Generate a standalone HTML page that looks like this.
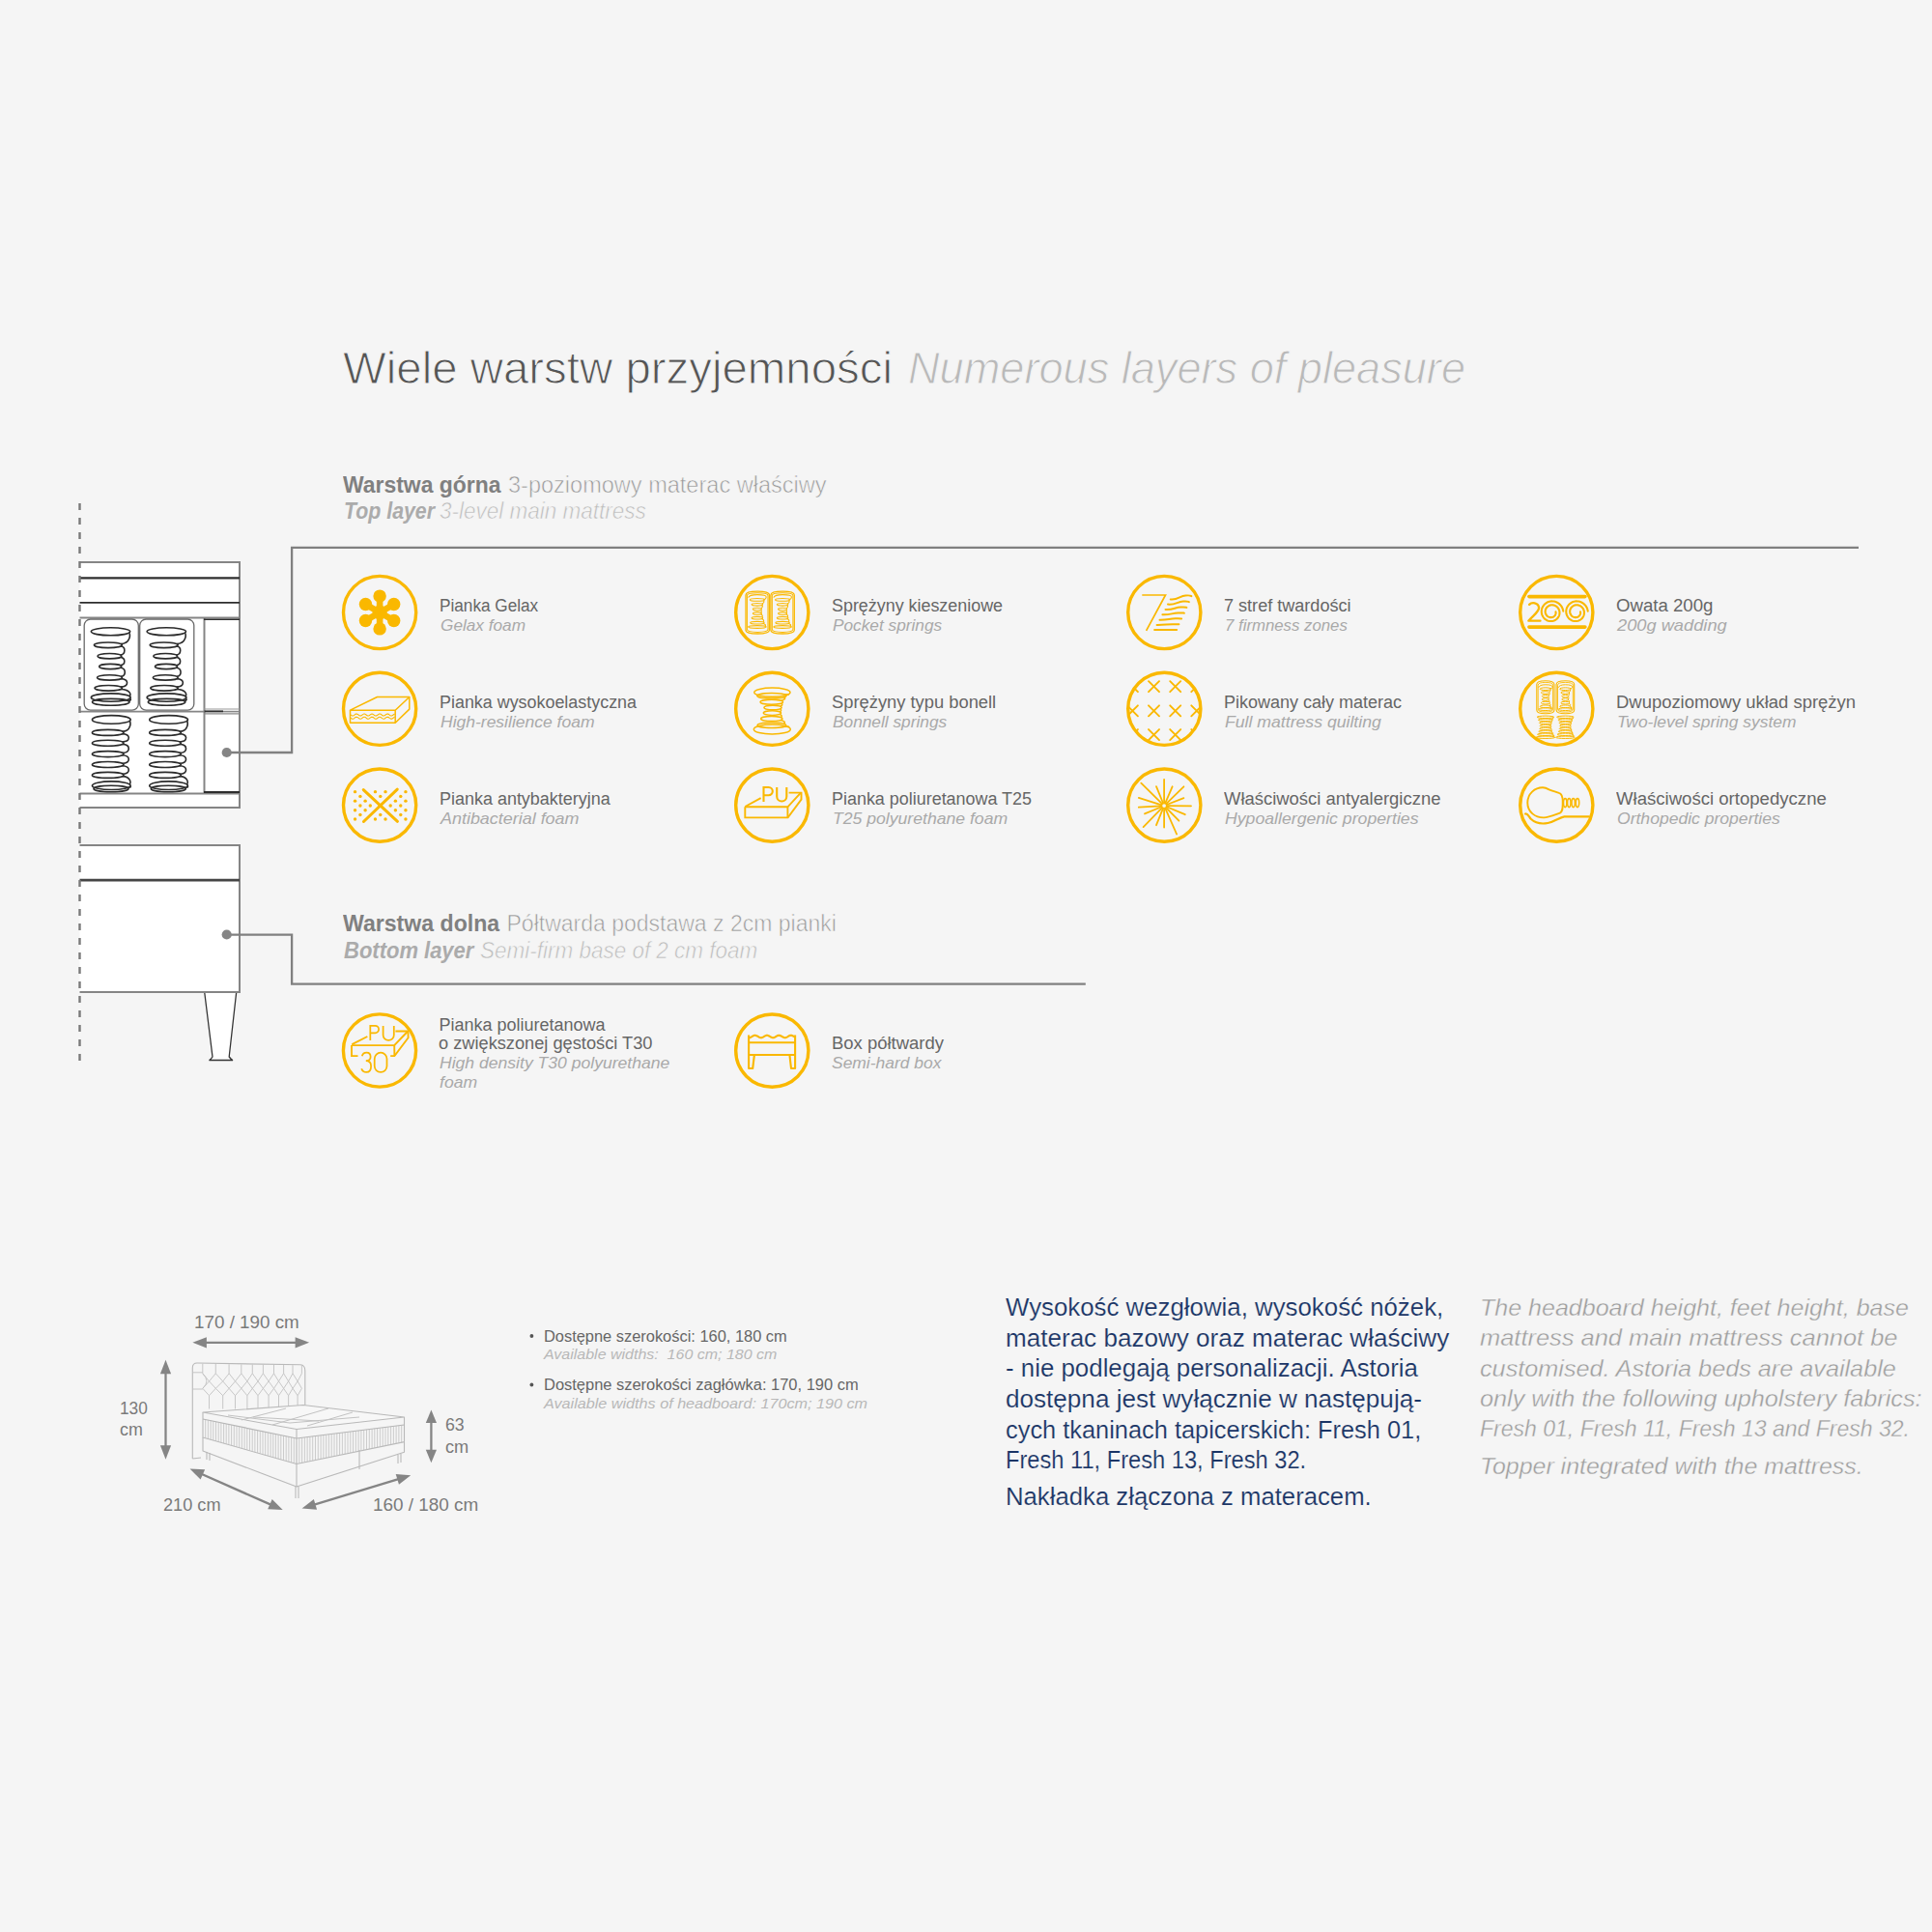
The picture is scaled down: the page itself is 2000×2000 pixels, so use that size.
<!DOCTYPE html>
<html><head><meta charset="utf-8"><title>Numerous layers of pleasure</title>
<style>
html,body{margin:0;padding:0;background:#f5f5f5;}
body{width:2000px;height:2000px;position:relative;overflow:hidden;font-family:"Liberation Sans",sans-serif;}
.t{position:absolute;white-space:pre;line-height:1;transform-origin:0 0;}
svg{position:absolute;left:0;top:0;}
</style></head><body>
<svg width="2000" height="2000" viewBox="0 0 2000 2000"><g transform="translate(393.1,634.0)">
<circle cx="0" cy="0" r="37.6" fill="none" stroke="#FAB800" stroke-width="3.4"/>
<g fill="#FAB800"><circle cx="0" cy="0" r="7.6"/><circle cx="0.00" cy="-16.90" r="6.7"/><line x1="0" y1="0" x2="0.00" y2="-16.90" stroke="#FAB800" stroke-width="6.6"/><circle cx="14.64" cy="-8.45" r="6.7"/><line x1="0" y1="0" x2="14.64" y2="-8.45" stroke="#FAB800" stroke-width="6.6"/><circle cx="14.64" cy="8.45" r="6.7"/><line x1="0" y1="0" x2="14.64" y2="8.45" stroke="#FAB800" stroke-width="6.6"/><circle cx="0.00" cy="16.90" r="6.7"/><line x1="0" y1="0" x2="0.00" y2="16.90" stroke="#FAB800" stroke-width="6.6"/><circle cx="-14.64" cy="8.45" r="6.7"/><line x1="0" y1="0" x2="-14.64" y2="8.45" stroke="#FAB800" stroke-width="6.6"/><circle cx="-14.64" cy="-8.45" r="6.7"/><line x1="0" y1="0" x2="-14.64" y2="-8.45" stroke="#FAB800" stroke-width="6.6"/></g>
</g>
<g transform="translate(393.1,733.8)">
<circle cx="0" cy="0" r="37.6" fill="none" stroke="#FAB800" stroke-width="3.4"/>
<g fill="none" stroke="#FAB800" stroke-width="1.5" stroke-linejoin="round"><path d="M-30.6 1.4 L-2.6 -12.3 L30.7 -12.3 L16.1 1.4 Z"/><path d="M-30.6 1.4 V14.5 H16.1 V1.4"/><path d="M30.7 -12.3 V0.3 L16.1 14.5"/></g>
<polyline points="-30.00,6.20 -29.24,6.76 -28.48,7.13 -27.73,7.18 -26.97,6.89 -26.21,6.36 -25.45,5.78 -24.69,5.34 -23.93,5.20 -23.18,5.40 -22.42,5.88 -21.66,6.47 -20.90,6.96 -20.14,7.19 -19.38,7.08 -18.62,6.67 -17.87,6.10 -17.11,5.56 -16.35,5.24 -15.59,5.25 -14.83,5.59 -14.07,6.14 -13.32,6.71 -12.56,7.11 -11.80,7.19 -11.04,6.93 -10.28,6.42 -9.52,5.84 -8.77,5.38 -8.01,5.20 -7.25,5.37 -6.49,5.82 -5.73,6.41 -4.98,6.92 -4.22,7.19 -3.46,7.11 -2.70,6.72 -1.94,6.15 -1.18,5.60 -0.43,5.26 0.33,5.23 1.09,5.55 1.85,6.08 2.61,6.66 3.37,7.08 4.12,7.20 4.88,6.97 5.64,6.48 6.40,5.89 7.16,5.41 7.92,5.20 8.67,5.34 9.43,5.77 10.19,6.35 10.95,6.88 11.71,7.17 12.47,7.13 13.23,6.77 13.98,6.21 14.74,5.65 15.50,5.28" fill="none" stroke="#FAB800" stroke-width="1.1"/>
<polyline points="-30.00,9.40 -29.24,9.96 -28.48,10.33 -27.73,10.38 -26.97,10.09 -26.21,9.56 -25.45,8.98 -24.69,8.54 -23.93,8.40 -23.18,8.60 -22.42,9.08 -21.66,9.67 -20.90,10.16 -20.14,10.39 -19.38,10.28 -18.62,9.87 -17.87,9.30 -17.11,8.76 -16.35,8.44 -15.59,8.45 -14.83,8.79 -14.07,9.34 -13.32,9.91 -12.56,10.31 -11.80,10.39 -11.04,10.13 -10.28,9.62 -9.52,9.04 -8.77,8.58 -8.01,8.40 -7.25,8.57 -6.49,9.02 -5.73,9.61 -4.98,10.12 -4.22,10.39 -3.46,10.31 -2.70,9.92 -1.94,9.35 -1.18,8.80 -0.43,8.46 0.33,8.43 1.09,8.75 1.85,9.28 2.61,9.86 3.37,10.28 4.12,10.40 4.88,10.17 5.64,9.68 6.40,9.09 7.16,8.61 7.92,8.40 8.67,8.54 9.43,8.97 10.19,9.55 10.95,10.08 11.71,10.37 12.47,10.33 13.23,9.97 13.98,9.41 14.74,8.85 15.50,8.48" fill="none" stroke="#FAB800" stroke-width="1.1"/>
</g>
<g transform="translate(393.1,833.6)">
<circle cx="0" cy="0" r="37.6" fill="none" stroke="#FAB800" stroke-width="3.4"/>
<g fill="#FAB800"><circle cx="-25.55" cy="-13.95" r="1.7"/><circle cx="-4.64" cy="-13.95" r="1.7"/><circle cx="5.92" cy="-13.95" r="1.7"/><circle cx="26.83" cy="-13.95" r="1.7"/><circle cx="-20.17" cy="-9.19" r="1.7"/><circle cx="0.66" cy="-9.19" r="1.7"/><circle cx="21.66" cy="-9.19" r="1.7"/><circle cx="-25.55" cy="-4.43" r="1.7"/><circle cx="-14.99" cy="-4.43" r="1.7"/><circle cx="16.27" cy="-4.43" r="1.7"/><circle cx="26.83" cy="-4.43" r="1.7"/><circle cx="-20.17" cy="0.33" r="1.7"/><circle cx="-9.81" cy="0.33" r="1.7"/><circle cx="11.10" cy="0.33" r="1.7"/><circle cx="21.66" cy="0.33" r="1.7"/><circle cx="-25.55" cy="5.09" r="1.7"/><circle cx="-14.99" cy="5.09" r="1.7"/><circle cx="16.27" cy="5.09" r="1.7"/><circle cx="26.83" cy="5.09" r="1.7"/><circle cx="-20.17" cy="9.86" r="1.7"/><circle cx="0.66" cy="9.86" r="1.7"/><circle cx="21.66" cy="9.86" r="1.7"/><circle cx="-25.55" cy="14.41" r="1.7"/><circle cx="-4.64" cy="14.41" r="1.7"/><circle cx="5.92" cy="14.41" r="1.7"/><circle cx="26.83" cy="14.41" r="1.7"/></g>
<g stroke="#FAB800" stroke-width="3.0" stroke-linecap="round"><line x1="-16.85" y1="-16.02" x2="18.34" y2="16.69"/><line x1="18.14" y1="-16.44" x2="-16.65" y2="16.89"/></g>
</g>
<g transform="translate(799.3,634.0)">
<circle cx="0" cy="0" r="37.6" fill="none" stroke="#FAB800" stroke-width="3.4"/>
<g fill="none" stroke="#FAB800" stroke-width="1.3"><path d="M-27.3 -18.0 Q-27.3 -21.8 -15.1 -21.8 Q-2.9 -21.8 -2.9 -18.0 V18.2 Q-2.9 22.0 -15.1 22.0 Q-27.3 22.0 -27.3 18.2 Z"/><path d="M-25.900000000000002 -17.4 Q-25.900000000000002 -20.2 -15.1 -20.2 Q-4.3 -20.2 -4.3 -17.4 V17.599999999999998 Q-4.3 20.4 -15.1 20.4 Q-25.900000000000002 20.4 -25.900000000000002 17.599999999999998 Z" stroke-width="1.04"/></g>
<g fill="none" stroke="#FAB800" stroke-width="1.3"><path d="M-1.4 -18.0 Q-1.4 -21.8 10.8 -21.8 Q23.0 -21.8 23.0 -18.0 V18.2 Q23.0 22.0 10.8 22.0 Q-1.4 22.0 -1.4 18.2 Z"/><path d="M0.0 -17.4 Q0.0 -20.2 10.8 -20.2 Q21.6 -20.2 21.6 -17.4 V17.599999999999998 Q21.6 20.4 10.8 20.4 Q0.0 20.4 0.0 17.599999999999998 Z" stroke-width="1.04"/></g>
<g fill="none" stroke="#FAB800" stroke-width="1.1"><ellipse cx="-15.40" cy="-13.10" rx="7.55" ry="1.35"/><ellipse cx="-15.40" cy="-8.20" rx="5.80" ry="1.35"/><ellipse cx="-15.40" cy="-3.40" rx="4.55" ry="1.35"/><ellipse cx="-15.40" cy="0.95" rx="4.55" ry="1.35"/><ellipse cx="-15.40" cy="5.70" rx="5.80" ry="1.35"/><ellipse cx="-15.40" cy="10.70" rx="7.25" ry="1.35"/><ellipse cx="-15.40" cy="15.00" rx="9.30" ry="1.35"/><path d="M-8.98 -12.36 Q-7.25 -10.65 -10.47 -8.94" fill="none"/><path d="M-10.47 -7.46 Q-9.00 -5.80 -11.53 -4.14" fill="none"/><path d="M-11.53 -2.66 Q-10.25 -1.23 -11.53 0.21" fill="none"/><path d="M-11.53 1.69 Q-9.00 3.32 -10.47 4.96" fill="none"/><path d="M-10.47 6.44 Q-7.55 8.20 -9.24 9.96" fill="none"/><path d="M-9.24 11.44 Q-5.50 12.85 -7.50 14.26" fill="none"/></g><path d="M-24.70 -15.40 Q-23.70 -18.40 -15.40 -18.40 Q-5.60 -18.40 -6.10 -15.80 Q-6.60 -13.10 -8.98 -13.70" fill="none" stroke="#FAB800" stroke-width="1.1"/>
<g fill="none" stroke="#FAB800" stroke-width="1.1"><ellipse cx="10.80" cy="-13.10" rx="7.55" ry="1.35"/><ellipse cx="10.80" cy="-8.20" rx="5.80" ry="1.35"/><ellipse cx="10.80" cy="-3.40" rx="4.55" ry="1.35"/><ellipse cx="10.80" cy="0.95" rx="4.55" ry="1.35"/><ellipse cx="10.80" cy="5.70" rx="5.80" ry="1.35"/><ellipse cx="10.80" cy="10.70" rx="7.25" ry="1.35"/><ellipse cx="10.80" cy="15.00" rx="9.30" ry="1.35"/><path d="M17.22 -12.36 Q18.95 -10.65 15.73 -8.94" fill="none"/><path d="M15.73 -7.46 Q17.20 -5.80 14.67 -4.14" fill="none"/><path d="M14.67 -2.66 Q15.95 -1.23 14.67 0.21" fill="none"/><path d="M14.67 1.69 Q17.20 3.32 15.73 4.96" fill="none"/><path d="M15.73 6.44 Q18.65 8.20 16.96 9.96" fill="none"/><path d="M16.96 11.44 Q20.70 12.85 18.71 14.26" fill="none"/></g><path d="M1.50 -15.40 Q2.50 -18.40 10.80 -18.40 Q20.60 -18.40 20.10 -15.80 Q19.60 -13.10 17.22 -13.70" fill="none" stroke="#FAB800" stroke-width="1.1"/>
</g>
<g transform="translate(799.3,733.8)">
<circle cx="0" cy="0" r="37.6" fill="none" stroke="#FAB800" stroke-width="3.4"/>
<g fill="none" stroke="#FAB800" stroke-width="1.5"><ellipse cx="0.10" cy="-17.10" rx="18.60" ry="4.60"/><ellipse cx="-0.40" cy="-13.50" rx="15.10" ry="2.80"/><ellipse cx="-0.50" cy="-7.10" rx="11.80" ry="2.50"/><ellipse cx="0.70" cy="-1.30" rx="9.10" ry="2.30"/><ellipse cx="0.10" cy="4.30" rx="9.20" ry="2.30"/><ellipse cx="-0.50" cy="10.30" rx="11.20" ry="2.50"/><ellipse cx="-0.40" cy="16.90" rx="14.80" ry="2.80"/><ellipse cx="0.00" cy="21.20" rx="19.00" ry="5.00"/><path d="M15.91 -14.57 Q19.30 -14.80 12.43 -15.04" fill="none"/><path d="M12.43 -11.96 Q15.30 -10.22 9.53 -8.47" fill="none"/><path d="M9.53 -5.72 Q11.90 -4.14 8.43 -2.56" fill="none"/><path d="M8.43 -0.04 Q10.40 1.50 7.92 3.04" fill="none"/><path d="M7.92 5.56 Q11.30 7.25 9.02 8.93" fill="none"/><path d="M9.02 11.68 Q15.00 13.52 12.18 15.36" fill="none"/><path d="M12.18 18.44 Q19.60 18.45 16.15 18.45" fill="none"/></g>
</g>
<g transform="translate(799.3,833.6)">
<circle cx="0" cy="0" r="37.6" fill="none" stroke="#FAB800" stroke-width="3.4"/>
<g fill="none" stroke="#FAB800" stroke-width="1.9" stroke-linejoin="miter"><path d="M-11.7 -7.5 L-28 1.4"/><path d="M-28 1.7 H16.1 L29.7 -13"/><path d="M-28 1.7 V12.8 H16.3 L30.2 -6 V-13 H17.3"/><path d="M16.1 1.7 V12.8"/></g>
<g fill="none" stroke="#FAB800" stroke-width="2.1"><path d="M-8.8 -3.7 V-18.6 H-3.6 A4.1 4.1 0 0 1 -3.6 -10.4 H-8.8"/><path d="M4.9 -18.6 V-9.2 A5.05 5.05 0 0 0 15 -9.2 V-18.6"/></g>
</g>
<g transform="translate(1205.3,634.0)">
<circle cx="0" cy="0" r="37.6" fill="none" stroke="#FAB800" stroke-width="3.4"/>
<path d="M-23 -18 H1.2 L-18.7 18.9" fill="none" stroke="#FAB800" stroke-width="1.7" stroke-linejoin="miter"/>
<g fill="none" stroke="#FAB800" stroke-width="2.0" stroke-linecap="round"><path d="M6.4 -13.6 C14.00 -12.64 16.17 -17.22 22.02 -17.54 S27.02 -17.38 28.1 -16.9"/><path d="M3.7 -8.4 C11.37 -7.62 13.55 -11.16 19.47 -11.42 S24.51 -11.29 25.6 -10.9"/><path d="M1.2 -3.1 C8.87 -2.50 11.05 -5.30 16.97 -5.50 S22.01 -5.40 23.1 -5.1"/><path d="M-1.9 2.3 C5.97 2.72 8.22 0.56 14.30 0.42 S19.48 0.49 20.6 0.7"/><path d="M-4.8 7.7 C3.11 7.91 5.37 6.43 11.47 6.36 S16.67 6.39 17.8 6.5"/><path d="M-7.7 12.9 C0.28 12.96 2.56 12.28 8.72 12.26 S13.96 12.27 15.1 12.3"/><path d="M-10.2 18.1 C-2.15 18.10 0.15 18.10 6.36 18.10 S11.65 18.10 12.8 18.1"/></g>
</g>
<g transform="translate(1205.3,733.8)">
<clipPath id="qc1"><circle cx="0" cy="0" r="37.6"/></clipPath>
<g clip-path="url(#qc1)" fill="none" stroke="#FAB800" stroke-width="1.9" stroke-linecap="round"><path d="M-38.40 -28.60 L-27.40 -17.60 M-27.40 -28.60 L-38.40 -17.60"/><path d="M-38.40 -3.50 L-27.40 7.50 M-27.40 -3.50 L-38.40 7.50"/><path d="M-38.40 21.30 L-27.40 32.30 M-27.40 21.30 L-38.40 32.30"/><path d="M-16.30 -28.60 L-5.30 -17.60 M-5.30 -28.60 L-16.30 -17.60"/><path d="M-16.30 -3.50 L-5.30 7.50 M-5.30 -3.50 L-16.30 7.50"/><path d="M-16.30 21.30 L-5.30 32.30 M-5.30 21.30 L-16.30 32.30"/><path d="M5.90 -28.60 L16.90 -17.60 M16.90 -28.60 L5.90 -17.60"/><path d="M5.90 -3.50 L16.90 7.50 M16.90 -3.50 L5.90 7.50"/><path d="M5.90 21.30 L16.90 32.30 M16.90 21.30 L5.90 32.30"/><path d="M28.00 -28.60 L39.00 -17.60 M39.00 -28.60 L28.00 -17.60"/><path d="M28.00 -3.50 L39.00 7.50 M39.00 -3.50 L28.00 7.50"/><path d="M28.00 21.30 L39.00 32.30 M39.00 21.30 L28.00 32.30"/></g>
<circle cx="0" cy="0" r="37.6" fill="none" stroke="#FAB800" stroke-width="3.4"/>
</g>
<g transform="translate(1205.3,833.6)">
<circle cx="0" cy="0" r="37.6" fill="none" stroke="#FAB800" stroke-width="3.4"/>
<g stroke="#FAB800" stroke-width="1.8" stroke-linecap="round"><line x1="-0.20" y1="-3.10" x2="-0.2" y2="-26.8"/><line x1="-0.20" y1="4.10" x2="-0.2" y2="22.9"/><line x1="3.40" y1="0.53" x2="27.7" y2="0.7"/><line x1="-3.79" y1="0.70" x2="-26.5" y2="2"/><line x1="-2.76" y1="-2.03" x2="-24" y2="-23"/><line x1="-1.55" y1="-2.84" x2="-8.3" y2="-19.5"/><line x1="1.22" y1="-2.81" x2="8.3" y2="-19.3"/><line x1="2.38" y1="-2.01" x2="20.1" y2="-19.3"/><line x1="-3.64" y1="-0.57" x2="-26.5" y2="-7.7"/><line x1="3.15" y1="-0.82" x2="20.1" y2="-7.5"/><line x1="-3.53" y1="1.87" x2="-20.3" y2="8.8"/><line x1="3.12" y1="1.89" x2="21.5" y2="9.6"/><line x1="-2.72" y1="3.07" x2="-21.7" y2="22.5"/><line x1="-1.55" y1="3.84" x2="-8.3" y2="20.6"/><line x1="1.26" y1="3.79" x2="12.8" y2="29.9"/><line x1="2.32" y1="3.07" x2="15.1" y2="16.1"/></g>
<circle cx="-0.2" cy="0.5" r="2.7" fill="none" stroke="#FAB800" stroke-width="1.6"/>
</g>
<g transform="translate(1611.3,634.0)">
<circle cx="0" cy="0" r="37.6" fill="none" stroke="#FAB800" stroke-width="3.4"/>
<g stroke="#FAB800" stroke-width="3.6" stroke-linecap="round"><line x1="-28.4" y1="-16.4" x2="29.6" y2="-16.4"/><line x1="-28.4" y1="15.1" x2="29.6" y2="15.1"/></g>
<path d="M-28.2 -8.1 C-26 -10.5 -19 -11 -18.2 -5 C-17.8 -1 -24 3 -29 8.7 H-16.8" fill="none" stroke="#FAB800" stroke-width="2.3" stroke-linejoin="round" stroke-linecap="round"/>
<polyline points="-0.82,-0.68 -0.74,-0.22 -0.70,0.25 -0.72,0.73 -0.79,1.22 -0.92,1.70 -1.09,2.17 -1.32,2.62 -1.60,3.06 -1.93,3.46 -2.30,3.84 -2.72,4.17 -3.18,4.47 -3.67,4.72 -4.19,4.91 -4.73,5.05 -5.29,5.14 -5.87,5.16 -6.45,5.13 -7.03,5.03 -7.61,4.87 -8.17,4.64 -8.71,4.36 -9.22,4.01 -9.70,3.61 -10.14,3.16 -10.53,2.65 -10.87,2.10 -11.15,1.52 -11.37,0.90 -11.53,0.25 -11.61,-0.41 -11.63,-1.09 -11.58,-1.77 -11.45,-2.45 -11.25,-3.12 -10.98,-3.77 -10.63,-4.40 -10.22,-4.99 -9.75,-5.53 -9.22,-6.03 -8.63,-6.48 -7.99,-6.86 -7.30,-7.18 -6.59,-7.43 -5.84,-7.60 -5.07,-7.69 -4.29,-7.70 -3.51,-7.63 -2.73,-7.47 -1.97,-7.23 -1.23,-6.91 -0.52,-6.51 0.15,-6.04 0.77,-5.49 1.33,-4.87 1.83,-4.20 2.26,-3.47 2.61,-2.69 2.88,-1.87 3.07,-1.02 3.16,-0.15 3.17,0.73 3.08,1.61 2.89,2.49 2.62,3.35 2.25,4.18 1.79,4.97 1.25,5.72 0.63,6.41 -0.07,7.03 -0.83,7.58 -1.65,8.06 -2.53,8.45 -3.44,8.74 -4.39,8.94 -5.36,9.04 -6.35,9.03 -7.33,8.93 -8.30,8.72 -9.26,8.40 -10.18,7.98 -11.06,7.47 -11.88,6.86 -12.64,6.17 -13.33,5.39 -13.94,4.54 -14.46,3.63 -14.88,2.66 -15.20,1.64 -15.41,0.59 -15.51,-0.48 -15.50,-1.57 -15.38,-2.65 -15.14,-3.72 -14.78,-4.77 -14.32,-5.78 -13.75,-6.74 -13.08,-7.65 -12.31,-8.48 -11.45,-9.23 -10.52,-9.89 -9.51,-10.45 -8.44,-10.91 -7.33,-11.25 -6.18,-11.48 -5.00,-11.59 -3.82,-11.57 -2.63,-11.43 -1.46,-11.16 -0.32,-10.77 0.78,-10.26 1.83,-9.63 2.81,-8.89 3.71,-8.05 4.53,-7.11 5.24,-6.09 5.85,-4.99 6.34,-3.83 6.71,-2.62 6.95,-1.36" fill="none" stroke="#FAB800" stroke-width="2.1" stroke-linecap="round"/>
<polyline points="24.68,-0.68 24.76,-0.22 24.80,0.25 24.78,0.73 24.71,1.22 24.58,1.70 24.41,2.17 24.18,2.62 23.90,3.06 23.57,3.46 23.20,3.84 22.78,4.17 22.32,4.47 21.83,4.72 21.31,4.91 20.77,5.05 20.21,5.14 19.63,5.16 19.05,5.13 18.47,5.03 17.89,4.87 17.33,4.64 16.79,4.36 16.28,4.01 15.80,3.61 15.36,3.16 14.97,2.65 14.63,2.10 14.35,1.52 14.13,0.90 13.97,0.25 13.89,-0.41 13.87,-1.09 13.92,-1.77 14.05,-2.45 14.25,-3.12 14.52,-3.77 14.87,-4.40 15.28,-4.99 15.75,-5.53 16.28,-6.03 16.87,-6.48 17.51,-6.86 18.20,-7.18 18.91,-7.43 19.66,-7.60 20.43,-7.69 21.21,-7.70 21.99,-7.63 22.77,-7.47 23.53,-7.23 24.27,-6.91 24.98,-6.51 25.65,-6.04 26.27,-5.49 26.83,-4.87 27.33,-4.20 27.76,-3.47 28.11,-2.69 28.38,-1.87 28.57,-1.02 28.66,-0.15 28.67,0.73 28.58,1.61 28.39,2.49 28.12,3.35 27.75,4.18 27.29,4.97 26.75,5.72 26.13,6.41 25.43,7.03 24.67,7.58 23.85,8.06 22.97,8.45 22.06,8.74 21.11,8.94 20.14,9.04 19.15,9.03 18.17,8.93 17.20,8.72 16.24,8.40 15.32,7.98 14.44,7.47 13.62,6.86 12.86,6.17 12.17,5.39 11.56,4.54 11.04,3.63 10.62,2.66 10.30,1.64 10.09,0.59 9.99,-0.48 10.00,-1.57 10.12,-2.65 10.36,-3.72 10.72,-4.77 11.18,-5.78 11.75,-6.74 12.42,-7.65 13.19,-8.48 14.05,-9.23 14.98,-9.89 15.99,-10.45 17.06,-10.91 18.17,-11.25 19.32,-11.48 20.50,-11.59 21.68,-11.57 22.87,-11.43 24.04,-11.16 25.18,-10.77 26.28,-10.26 27.33,-9.63 28.31,-8.89 29.21,-8.05 30.03,-7.11 30.74,-6.09 31.35,-4.99 31.84,-3.83 32.21,-2.62 32.45,-1.36" fill="none" stroke="#FAB800" stroke-width="2.1" stroke-linecap="round"/>
</g>
<g transform="translate(1611.3,733.8)">
<circle cx="0" cy="0" r="37.6" fill="none" stroke="#FAB800" stroke-width="3.4"/>
<g fill="none" stroke="#FAB800" stroke-width="1.1"><path d="M-20.5 -25.2 Q-20.5 -29.0 -11.4 -29.0 Q-2.3 -29.0 -2.3 -25.2 V1.0999999999999996 Q-2.3 4.8999999999999995 -11.4 4.8999999999999995 Q-20.5 4.8999999999999995 -20.5 1.0999999999999996 Z"/><path d="M-19.1 -24.599999999999998 Q-19.1 -27.4 -11.4 -27.4 Q-3.6999999999999997 -27.4 -3.6999999999999997 -24.599999999999998 V0.49999999999999967 Q-3.6999999999999997 3.3 -11.4 3.3 Q-19.1 3.3 -19.1 0.49999999999999967 Z" stroke-width="0.8800000000000001"/></g>
<g fill="none" stroke="#FAB800" stroke-width="1.1"><path d="M-0.2 -25.2 Q-0.2 -29.0 9.1 -29.0 Q18.4 -29.0 18.4 -25.2 V1.0999999999999996 Q18.4 4.8999999999999995 9.1 4.8999999999999995 Q-0.2 4.8999999999999995 -0.2 1.0999999999999996 Z"/><path d="M1.2 -24.599999999999998 Q1.2 -27.4 9.1 -27.4 Q17.0 -27.4 17.0 -24.599999999999998 V0.49999999999999967 Q17.0 3.3 9.1 3.3 Q1.2 3.3 1.2 0.49999999999999967 Z" stroke-width="0.8800000000000001"/></g>
<g fill="none" stroke="#FAB800" stroke-width="1.0"><ellipse cx="-11.40" cy="-20.60" rx="5.80" ry="1.35"/><ellipse cx="-11.40" cy="-16.80" rx="4.60" ry="1.35"/><ellipse cx="-11.40" cy="-13.10" rx="3.60" ry="1.35"/><ellipse cx="-11.40" cy="-9.80" rx="3.60" ry="1.35"/><ellipse cx="-11.40" cy="-6.20" rx="4.60" ry="1.35"/><ellipse cx="-11.40" cy="-2.50" rx="5.70" ry="1.35"/><ellipse cx="-11.40" cy="0.40" rx="7.20" ry="1.35"/><path d="M-6.47 -19.86 Q-5.00 -18.70 -7.49 -17.54" fill="none"/><path d="M-7.49 -16.06 Q-6.20 -14.95 -8.34 -13.84" fill="none"/><path d="M-8.34 -12.36 Q-7.20 -11.45 -8.34 -10.54" fill="none"/><path d="M-8.34 -9.06 Q-6.20 -8.00 -7.49 -6.94" fill="none"/><path d="M-7.49 -5.46 Q-5.10 -4.35 -6.56 -3.24" fill="none"/><path d="M-6.56 -1.76 Q-3.60 -1.05 -5.28 -0.34" fill="none"/></g><path d="M-18.60 -22.00 Q-17.60 -25.00 -11.40 -25.00 Q-3.70 -25.00 -4.20 -22.40 Q-4.70 -20.60 -6.47 -21.20" fill="none" stroke="#FAB800" stroke-width="1.0"/>
<g fill="none" stroke="#FAB800" stroke-width="1.0"><ellipse cx="-11.40" cy="8.50" rx="8.78" ry="1.20"/><ellipse cx="-11.40" cy="11.50" rx="7.47" ry="1.20"/><ellipse cx="-11.40" cy="14.50" rx="6.43" ry="1.20"/><ellipse cx="-11.40" cy="17.50" rx="5.80" ry="1.20"/><ellipse cx="-11.40" cy="20.50" rx="6.19" ry="1.20"/><ellipse cx="-11.40" cy="23.50" rx="7.12" ry="1.20"/><ellipse cx="-11.40" cy="26.50" rx="8.36" ry="1.20"/><ellipse cx="-11.40" cy="29.50" rx="9.84" ry="1.20"/><path d="M-3.93 9.16 Q-2.02 10.00 -5.05 10.84" fill="none"/><path d="M-5.05 12.16 Q-3.33 13.00 -5.93 13.84" fill="none"/><path d="M-5.93 15.16 Q-4.37 16.00 -6.47 16.84" fill="none"/><path d="M-6.47 18.16 Q-4.61 19.00 -6.14 19.84" fill="none"/><path d="M-6.14 21.16 Q-3.68 22.00 -5.34 22.84" fill="none"/><path d="M-5.34 24.16 Q-2.44 25.00 -4.29 25.84" fill="none"/><path d="M-4.29 27.16 Q-0.96 28.00 -3.03 28.84" fill="none"/></g>
<g fill="none" stroke="#FAB800" stroke-width="1.0"><ellipse cx="9.10" cy="-20.60" rx="5.80" ry="1.35"/><ellipse cx="9.10" cy="-16.80" rx="4.60" ry="1.35"/><ellipse cx="9.10" cy="-13.10" rx="3.60" ry="1.35"/><ellipse cx="9.10" cy="-9.80" rx="3.60" ry="1.35"/><ellipse cx="9.10" cy="-6.20" rx="4.60" ry="1.35"/><ellipse cx="9.10" cy="-2.50" rx="5.70" ry="1.35"/><ellipse cx="9.10" cy="0.40" rx="7.20" ry="1.35"/><path d="M14.03 -19.86 Q15.50 -18.70 13.01 -17.54" fill="none"/><path d="M13.01 -16.06 Q14.30 -14.95 12.16 -13.84" fill="none"/><path d="M12.16 -12.36 Q13.30 -11.45 12.16 -10.54" fill="none"/><path d="M12.16 -9.06 Q14.30 -8.00 13.01 -6.94" fill="none"/><path d="M13.01 -5.46 Q15.40 -4.35 13.95 -3.24" fill="none"/><path d="M13.95 -1.76 Q16.90 -1.05 15.22 -0.34" fill="none"/></g><path d="M1.90 -22.00 Q2.90 -25.00 9.10 -25.00 Q16.80 -25.00 16.30 -22.40 Q15.80 -20.60 14.03 -21.20" fill="none" stroke="#FAB800" stroke-width="1.0"/>
<g fill="none" stroke="#FAB800" stroke-width="1.0"><ellipse cx="9.10" cy="8.50" rx="8.78" ry="1.20"/><ellipse cx="9.10" cy="11.50" rx="7.47" ry="1.20"/><ellipse cx="9.10" cy="14.50" rx="6.43" ry="1.20"/><ellipse cx="9.10" cy="17.50" rx="5.80" ry="1.20"/><ellipse cx="9.10" cy="20.50" rx="6.19" ry="1.20"/><ellipse cx="9.10" cy="23.50" rx="7.12" ry="1.20"/><ellipse cx="9.10" cy="26.50" rx="8.36" ry="1.20"/><ellipse cx="9.10" cy="29.50" rx="9.84" ry="1.20"/><path d="M16.57 9.16 Q18.48 10.00 15.45 10.84" fill="none"/><path d="M15.45 12.16 Q17.17 13.00 14.57 13.84" fill="none"/><path d="M14.57 15.16 Q16.13 16.00 14.03 16.84" fill="none"/><path d="M14.03 18.16 Q15.89 19.00 14.36 19.84" fill="none"/><path d="M14.36 21.16 Q16.82 22.00 15.16 22.84" fill="none"/><path d="M15.16 24.16 Q18.06 25.00 16.21 25.84" fill="none"/><path d="M16.21 27.16 Q19.54 28.00 17.47 28.84" fill="none"/></g>
</g>
<g transform="translate(1611.3,833.6)">
<circle cx="0" cy="0" r="37.6" fill="none" stroke="#FAB800" stroke-width="3.4"/>
<path d="M-14.3 -18.4 C-22.5 -18.4 -30 -12 -30 -2.5 C-30 7 -22 13 -13 12.8 C-8 12.5 -1 9.5 3.5 8 C6.3 6.5 6.4 3.5 6.4 -1 V-4 C6.4 -10 4.6 -12.2 2.5 -12.8 C-1 -14 -5 -15 -7.7 -16.3 C-10 -17.6 -12 -18.4 -14.3 -18.4 Z" fill="none" stroke="#FAB800" stroke-width="1.9"/>
<g fill="none" stroke="#FAB800" stroke-width="1.6"><ellipse cx="8.9" cy="-2.5" rx="1.7" ry="4.5"/><ellipse cx="13" cy="-2.5" rx="1.7" ry="4.5"/><ellipse cx="17.4" cy="-2.5" rx="1.7" ry="4.5"/><ellipse cx="21.7" cy="-2.5" rx="1.7" ry="4.5"/></g>
<path d="M-32.3 8.9 C-29.5 8.3 -28.5 12 -26.5 14.2 C-22 18.5 -15 19.5 -9 18.4 C-2 17 3 12.5 8 11.7 H33.5" fill="none" stroke="#FAB800" stroke-width="2.2" stroke-linecap="round"/>
</g>
<g transform="translate(393.0,1087.5)">
<circle cx="0" cy="0" r="37.6" fill="none" stroke="#FAB800" stroke-width="3.4"/>
<g fill="none" stroke="#FAB800" stroke-width="1.9"><path d="M-12.7 -14.5 L-28.6 -6.3"/><path d="M-29 -5.4 H15.2 L29.2 -20"/><path d="M16.4 -20 H29.4 L29.6 -13.2 L15.4 5.6 H11.2"/><path d="M15.2 -5.4 L15.4 5.6"/><path d="M-29 -5.4 V5.6 H-22.5"/></g>
<g fill="none" stroke="#FAB800" stroke-width="1.75"><path d="M-9.7 -10.5 V-25.6 H-4.6 A3.7 3.7 0 0 1 -4.6 -18.2 H-9.7"/><path d="M3.6 -25.6 V-16 A5.6 5.4 0 0 0 14.8 -16 V-25.6"/><path d="M-18.2 5.8 C-17.6 3.3 -15.6 2.2 -13.5 2.2 C-10.8 2.2 -9.4 4.2 -9.4 6.6 C-9.4 9.2 -11.2 10.7 -14.2 10.7 C-10.8 10.7 -8.9 12.6 -8.9 16.2 C-8.9 20.2 -11 22.4 -13.8 22.4 C-16.3 22.4 -18 21 -18.8 18.7"/><rect x="-5.3" y="2.2" width="12.8" height="20.2" rx="6.4" ry="6.4"/></g>
</g>
<g transform="translate(799.3,1087.6)">
<circle cx="0" cy="0" r="37.6" fill="none" stroke="#FAB800" stroke-width="3.4"/>
<g fill="none" stroke="#FAB800" stroke-width="2.1" stroke-linejoin="round"><polyline points="-23.90,-13.40 -23.31,-13.45 -22.71,-13.61 -22.12,-13.86 -21.52,-14.17 -20.93,-14.52 -20.34,-14.88 -19.74,-15.21 -19.15,-15.49 -18.56,-15.69 -17.96,-15.79 -17.37,-15.78 -16.77,-15.67 -16.18,-15.46 -15.59,-15.18 -14.99,-14.84 -14.40,-14.48 -13.81,-14.13 -13.21,-13.82 -12.62,-13.59 -12.02,-13.44 -11.43,-13.40 -10.84,-13.47 -10.24,-13.64 -9.65,-13.89 -9.06,-14.21 -8.46,-14.56 -7.87,-14.92 -7.27,-15.25 -6.68,-15.52 -6.09,-15.71 -5.49,-15.79 -4.90,-15.78 -4.31,-15.65 -3.71,-15.43 -3.12,-15.14 -2.52,-14.80 -1.93,-14.44 -1.34,-14.09 -0.74,-13.79 -0.15,-13.57 0.44,-13.43 1.04,-13.40 1.63,-13.48 2.23,-13.66 2.82,-13.92 3.41,-14.25 4.01,-14.60 4.60,-14.96 5.19,-15.28 5.79,-15.54 6.38,-15.72 6.98,-15.80 7.57,-15.77 8.16,-15.63 8.76,-15.40 9.35,-15.10 9.94,-14.76 10.54,-14.40 11.13,-14.05 11.73,-13.76 12.32,-13.55 12.91,-13.42 13.51,-13.41 14.10,-13.50 14.69,-13.69 15.29,-13.96 15.88,-14.29 16.48,-14.65 17.07,-15.00 17.66,-15.32 18.26,-15.57 18.85,-15.74 19.44,-15.80 20.04,-15.76 20.63,-15.61 21.23,-15.37 21.82,-15.06 22.41,-14.71 23.01,-14.35 23.60,-14.02"/><path d="M-24.2 -16 V18.4 H-20.1 L-18.4 4.4 H18.1 L19.7 18.4 H23.8 V-16"/><line x1="-24.2" y1="-8.4" x2="23.8" y2="-8.4"/><line x1="-24.2" y1="4.4" x2="23.8" y2="4.4"/></g>
</g>
<g>
<rect x="82.5" y="582" width="165.5" height="254" fill="#ffffff"/>
<rect x="82.5" y="875" width="165.5" height="152" fill="#ffffff"/>
<path d="M211.7 1027 L244.7 1027 L237.2 1094 Q239 1096.5 241 1097.5 L216.5 1097.5 Q218.5 1096.5 220 1094 Z" fill="#ffffff" stroke="#333" stroke-width="1.3"/>
<g stroke="#858585" fill="none"><line x1="82.5" y1="582" x2="249" y2="582" stroke-width="2"/><line x1="248" y1="581" x2="248" y2="837" stroke-width="2"/><line x1="82.5" y1="639.5" x2="249" y2="639.5" stroke-width="2"/><line x1="82.5" y1="736.6" x2="211" y2="736.6" stroke-width="1.6"/><line x1="231" y1="736.6" x2="248" y2="736.6" stroke-width="1.6"/><line x1="82.5" y1="821.5" x2="249" y2="821.5" stroke-width="1.8"/><line x1="82.5" y1="836" x2="249" y2="836" stroke-width="2"/><line x1="211.5" y1="640" x2="211.5" y2="821" stroke-width="2"/><line x1="82.5" y1="875" x2="249" y2="875" stroke-width="2.2"/><line x1="248" y1="874" x2="248" y2="1028" stroke-width="2"/><line x1="82.5" y1="1027" x2="249" y2="1027" stroke-width="2.2"/></g>
<g stroke="#2e2e2e" fill="none"><line x1="82.5" y1="598.3" x2="248" y2="598.3" stroke-width="2.2"/><line x1="82.5" y1="623.9" x2="248" y2="623.9" stroke-width="1.8"/><line x1="211" y1="641.2" x2="248" y2="641.2" stroke-width="1.6"/><line x1="211.6" y1="736.4" x2="231" y2="736.4" stroke-width="2"/><line x1="211" y1="820" x2="248" y2="820" stroke-width="1.8"/><line x1="82.5" y1="911.1" x2="248" y2="911.1" stroke="#454545" stroke-width="2.6"/></g>
<line x1="211" y1="734" x2="248" y2="734" stroke="#999" stroke-width="1.2"/>
<line x1="211" y1="738.8" x2="248" y2="738.8" stroke="#888" stroke-width="1.2"/>
<rect x="87.2" y="641" width="56.10000000000001" height="94.2" rx="6.5" ry="6.5" fill="none" stroke="#6a6a6a" stroke-width="1.3"/>
<rect x="144.7" y="641" width="56.10000000000002" height="94.2" rx="6.5" ry="6.5" fill="none" stroke="#6a6a6a" stroke-width="1.3"/>
<g fill="none" stroke="#2b2b2b" stroke-width="1.6"><ellipse cx="114.50" cy="653.80" rx="20.20" ry="4.00"/><ellipse cx="111.90" cy="667.80" rx="14.50" ry="2.80"/><ellipse cx="113.45" cy="679.20" rx="12.45" ry="2.70"/><ellipse cx="114.25" cy="690.00" rx="11.65" ry="2.60"/><ellipse cx="113.45" cy="701.40" rx="12.95" ry="2.70"/><ellipse cx="112.20" cy="712.30" rx="14.20" ry="2.80"/><ellipse cx="114.75" cy="722.10" rx="20.45" ry="4.20"/><ellipse cx="114.75" cy="726.80" rx="19.25" ry="3.40"/><path d="M133.20 655.00 C135.50 655.30 135.50 666.30 124.90 666.60"/><path d="M124.90 669.00 C130.30 669.30 130.30 677.70 124.40 678.00"/><path d="M124.40 680.40 C130.30 680.70 130.30 688.50 124.40 688.80"/><path d="M124.40 691.20 C130.80 691.50 130.80 699.90 124.90 700.20"/><path d="M124.90 702.60 C133.80 702.90 133.80 710.80 124.90 711.10"/><path d="M124.90 713.50 C136.00 713.80 136.00 720.60 133.70 720.90"/><path d="M133.70 723.30 C136.00 723.60 136.00 725.30 132.50 725.60"/></g>
<g fill="none" stroke="#2b2b2b" stroke-width="1.6"><ellipse cx="172.30" cy="653.80" rx="20.20" ry="4.00"/><ellipse cx="169.70" cy="667.80" rx="14.50" ry="2.80"/><ellipse cx="171.25" cy="679.20" rx="12.45" ry="2.70"/><ellipse cx="172.05" cy="690.00" rx="11.65" ry="2.60"/><ellipse cx="171.25" cy="701.40" rx="12.95" ry="2.70"/><ellipse cx="170.00" cy="712.30" rx="14.20" ry="2.80"/><ellipse cx="172.55" cy="722.10" rx="20.45" ry="4.20"/><ellipse cx="172.55" cy="726.80" rx="19.25" ry="3.40"/><path d="M191.00 655.00 C193.30 655.30 193.30 666.30 182.70 666.60"/><path d="M182.70 669.00 C188.10 669.30 188.10 677.70 182.20 678.00"/><path d="M182.20 680.40 C188.10 680.70 188.10 688.50 182.20 688.80"/><path d="M182.20 691.20 C188.60 691.50 188.60 699.90 182.70 700.20"/><path d="M182.70 702.60 C191.60 702.90 191.60 710.80 182.70 711.10"/><path d="M182.70 713.50 C193.80 713.80 193.80 720.60 191.50 720.90"/><path d="M191.50 723.30 C193.80 723.60 193.80 725.30 190.30 725.60"/></g>
<g fill="none" stroke="#2b2b2b" stroke-width="1.6"><ellipse cx="115.30" cy="744.90" rx="19.90" ry="4.30"/><ellipse cx="111.70" cy="758.40" rx="16.30" ry="3.00"/><ellipse cx="111.70" cy="769.20" rx="16.30" ry="3.00"/><ellipse cx="111.70" cy="780.60" rx="16.30" ry="3.00"/><ellipse cx="111.70" cy="791.50" rx="16.30" ry="3.00"/><ellipse cx="111.70" cy="802.40" rx="16.30" ry="3.00"/><ellipse cx="115.30" cy="813.20" rx="19.90" ry="4.30"/><ellipse cx="115.00" cy="816.50" rx="18.00" ry="3.20"/><path d="M133.70 746.10 C136.00 746.40 136.00 756.90 126.50 757.20"/><path d="M126.50 759.60 C135.50 759.90 135.50 767.70 126.50 768.00"/><path d="M126.50 770.40 C135.50 770.70 135.50 779.10 126.50 779.40"/><path d="M126.50 781.80 C135.50 782.10 135.50 790.00 126.50 790.30"/><path d="M126.50 792.70 C135.50 793.00 135.50 800.90 126.50 801.20"/><path d="M126.50 803.60 C136.00 803.90 136.00 811.70 133.70 812.00"/><path d="M133.70 814.40 C136.00 814.70 136.00 815.00 131.50 815.30"/></g>
<g fill="none" stroke="#2b2b2b" stroke-width="1.6"><ellipse cx="174.60" cy="744.90" rx="19.90" ry="4.30"/><ellipse cx="171.00" cy="758.40" rx="16.30" ry="3.00"/><ellipse cx="171.00" cy="769.20" rx="16.30" ry="3.00"/><ellipse cx="171.00" cy="780.60" rx="16.30" ry="3.00"/><ellipse cx="171.00" cy="791.50" rx="16.30" ry="3.00"/><ellipse cx="171.00" cy="802.40" rx="16.30" ry="3.00"/><ellipse cx="174.60" cy="813.20" rx="19.90" ry="4.30"/><ellipse cx="174.30" cy="816.50" rx="18.00" ry="3.20"/><path d="M193.00 746.10 C195.30 746.40 195.30 756.90 185.80 757.20"/><path d="M185.80 759.60 C194.80 759.90 194.80 767.70 185.80 768.00"/><path d="M185.80 770.40 C194.80 770.70 194.80 779.10 185.80 779.40"/><path d="M185.80 781.80 C194.80 782.10 194.80 790.00 185.80 790.30"/><path d="M185.80 792.70 C194.80 793.00 194.80 800.90 185.80 801.20"/><path d="M185.80 803.60 C195.30 803.90 195.30 811.70 193.00 812.00"/><path d="M193.00 814.40 C195.30 814.70 195.30 815.00 190.80 815.30"/></g>
<line x1="82.5" y1="521" x2="82.5" y2="1098" stroke="#7a7a7a" stroke-width="2.4" stroke-dasharray="7 8"/>
<g fill="none" stroke="#808080" stroke-width="2.3"><polyline points="234.7,779 302.1,779 302.1,566.8 1924,566.8"/><polyline points="234.7,967.6 302.1,967.6 302.1,1018.6 1123.8,1018.6"/></g>
<circle cx="234.7" cy="779" r="5.1" fill="#858585"/>
<circle cx="234.7" cy="967.5" r="5.1" fill="#858585"/>
</g>
<g fill="none" stroke="#b9b9b9" stroke-width="1.1" stroke-linejoin="round">
<path d="M199.3 1510 V1416 Q199.3 1411 204 1411 L311 1412.8 Q315.8 1413.2 315.8 1419 V1455"/>
<path d="M199.3 1510 L208 1509"/>
<path d="M209.8 1411.8 V1421.8 M223.3 1412.0 V1421.8 M237.1 1412.2 V1421.8 M249.8 1412.4 V1421.8 M261.3 1412.5 V1421.8 M272.4 1412.7 V1421.8 M283.5 1412.9 V1421.8 M293.6 1413.0 V1421.8 M303.0 1413.2 V1421.8 M312.4 1413.3 V1421.8 M209.8 1421.8 L216.5 1429.9 L223.3 1421.8 M209.8 1437.3 L216.5 1429.9 L223.3 1437.3 M209.8 1437.3 L216.5 1444.7 L223.3 1437.3 M216.5 1444.7 V1458.5 M223.3 1421.8 L230.7 1429.9 L237.1 1421.8 M223.3 1437.3 L230.7 1429.9 L237.1 1437.3 M223.3 1437.3 L230.7 1444.7 L237.1 1437.3 M230.7 1444.7 V1458.5 M237.1 1421.8 L243.5 1429.9 L249.8 1421.8 M237.1 1437.3 L243.5 1429.9 L249.8 1437.3 M237.1 1437.3 L243.5 1444.7 L249.8 1437.3 M243.5 1444.7 V1458.5 M249.8 1421.8 L255.9 1429.9 L261.3 1421.8 M249.8 1437.3 L255.9 1429.9 L261.3 1437.3 M249.8 1437.3 L255.9 1444.7 L261.3 1437.3 M255.9 1444.7 V1458.5 M261.3 1421.8 L267.0 1429.9 L272.4 1421.8 M261.3 1437.3 L267.0 1429.9 L272.4 1437.3 M261.3 1437.3 L267.0 1444.7 L272.4 1437.3 M267.0 1444.7 V1458.5 M272.4 1421.8 L278.1 1429.9 L283.5 1421.8 M272.4 1437.3 L278.1 1429.9 L283.5 1437.3 M272.4 1437.3 L278.1 1444.7 L283.5 1437.3 M278.1 1444.7 V1458.5 M283.5 1421.8 L288.5 1429.9 L293.6 1421.8 M283.5 1437.3 L288.5 1429.9 L293.6 1437.3 M283.5 1437.3 L288.5 1444.7 L293.6 1437.3 M288.5 1444.7 V1458.5 M293.6 1421.8 L298.6 1429.9 L303.0 1421.8 M293.6 1437.3 L298.6 1429.9 L303.0 1437.3 M293.6 1437.3 L298.6 1444.7 L303.0 1437.3 M298.6 1444.7 V1458.5 M303.0 1421.8 L308.1 1429.9 L312.4 1421.8 M303.0 1437.3 L308.1 1429.9 L312.4 1437.3 M303.0 1437.3 L308.1 1444.7 L312.4 1437.3 M308.1 1444.7 V1458.5 M199.3 1420.8 H209.8 M199.3 1438 H209.8 M209.8 1421.8 Q218.0 1429.9 209.8 1437.3" stroke="#c2c2c2" stroke-width="0.9"/>
<path d="M210 1462 L314 1454.5 L418.5 1467 L307 1479.5 Z" fill="#f7f7f7"/>
<path d="M210 1462 V1488 L307 1515.5 V1479.5 M307 1515.5 L418.5 1492.6 V1467" />
<path d="M210 1469 L307 1489 L418.5 1475" stroke="#b5b5b5" stroke-width="1.2"/>
<path d="M212.7 1469.6 V1488.8 M215.4 1470.1 V1489.5 M218.1 1470.7 V1490.3 M220.8 1471.2 V1491.1 M223.5 1471.8 V1491.8 M226.2 1472.3 V1492.6 M228.9 1472.9 V1493.3 M231.6 1473.4 V1494.1 M234.2 1474.0 V1494.9 M236.9 1474.6 V1495.6 M239.6 1475.1 V1496.4 M242.3 1475.7 V1497.2 M245.0 1476.2 V1497.9 M247.7 1476.8 V1498.7 M250.4 1477.3 V1499.5 M253.1 1477.9 V1500.2 M255.8 1478.4 V1501.0 M258.5 1479.0 V1501.8 M261.2 1479.6 V1502.5 M263.9 1480.1 V1503.3 M266.6 1480.7 V1504.0 M269.3 1481.2 V1504.8 M272.0 1481.8 V1505.6 M274.7 1482.3 V1506.3 M277.4 1482.9 V1507.1 M280.1 1483.4 V1507.9 M282.8 1484.0 V1508.6 M285.4 1484.6 V1509.4 M288.1 1485.1 V1510.2 M290.8 1485.7 V1510.9 M293.5 1486.2 V1511.7 M296.2 1486.8 V1512.4 M298.9 1487.3 V1513.2 M301.6 1487.9 V1514.0 M304.3 1488.4 V1514.7 M309.8 1488.7 V1514.9 M312.6 1488.3 V1514.4 M315.4 1488.0 V1513.8 M318.1 1487.6 V1513.2 M320.9 1487.2 V1512.6 M323.7 1486.9 V1512.1 M326.5 1486.5 V1511.5 M329.3 1486.2 V1510.9 M332.1 1485.8 V1510.3 M334.9 1485.5 V1509.8 M337.7 1485.2 V1509.2 M340.4 1484.8 V1508.6 M343.2 1484.5 V1508.1 M346.0 1484.1 V1507.5 M348.8 1483.8 V1506.9 M351.6 1483.4 V1506.3 M354.4 1483.0 V1505.8 M357.2 1482.7 V1505.2 M360.0 1482.3 V1504.6 M362.8 1482.0 V1504.0 M365.5 1481.7 V1503.5 M368.3 1481.3 V1502.9 M371.1 1481.0 V1502.3 M373.9 1480.6 V1501.8 M376.7 1480.2 V1501.2 M379.5 1479.9 V1500.6 M382.3 1479.5 V1500.0 M385.1 1479.2 V1499.5 M387.8 1478.8 V1498.9 M390.6 1478.5 V1498.3 M393.4 1478.2 V1497.8 M396.2 1477.8 V1497.2 M399.0 1477.5 V1496.6 M401.8 1477.1 V1496.0 M404.6 1476.8 V1495.5 M407.4 1476.4 V1494.9 M410.1 1476.0 V1494.3 M412.9 1475.7 V1493.7 M415.7 1475.3 V1493.2" stroke="#bdbdbd" stroke-width="0.75"/>
<path d="M250 1470 L296 1458 M282 1475 L340 1458 M318 1476 L365 1462 M236 1465 L300 1473 L372 1467 M262 1467 L330 1471" stroke="#c2c2c2" stroke-width="1"/>
<path d="M210 1488 V1502 L307 1539 V1515.5 M307 1539 L418.5 1503.3 V1492.6"/>
<path d="M372 1501 V1521"/>
<path d="M214 1503 V1511 M217 1504 V1512 M306 1539 V1551 M309 1539 V1551 M412 1506 V1515 M415 1505 V1514"/>
</g>
<line x1="211.00" y1="1389.80" x2="308.50" y2="1389.80" stroke="#858585" stroke-width="2.3"/><polygon points="199.40,1389.80 213.90,1395.40 213.90,1384.20" fill="#858585"/><polygon points="320.10,1389.80 305.60,1395.40 305.60,1384.20" fill="#858585"/>
<line x1="171.50" y1="1419.40" x2="171.50" y2="1499.20" stroke="#858585" stroke-width="2.3"/><polygon points="171.50,1407.80 165.90,1422.30 177.10,1422.30" fill="#858585"/><polygon points="171.50,1510.80 165.90,1496.30 177.10,1496.30" fill="#858585"/>
<line x1="446.40" y1="1470.40" x2="446.40" y2="1503.50" stroke="#858585" stroke-width="2.3"/><polygon points="446.40,1459.60 440.80,1473.10 452.00,1473.10" fill="#858585"/><polygon points="446.40,1514.30 440.80,1500.80 452.00,1500.80" fill="#858585"/>
<line x1="207.21" y1="1525.29" x2="282.09" y2="1558.41" stroke="#858585" stroke-width="2.3"/><polygon points="196.60,1520.60 207.60,1531.59 212.13,1521.34" fill="#858585"/><polygon points="292.70,1563.10 277.17,1562.36 281.70,1552.11" fill="#858585"/>
<line x1="323.70" y1="1558.12" x2="414.10" y2="1530.58" stroke="#858585" stroke-width="2.3"/><polygon points="312.60,1561.50 328.10,1562.63 324.84,1551.92" fill="#858585"/><polygon points="425.20,1527.20 412.96,1536.78 409.70,1526.07" fill="#858585"/>
<circle cx="550.4" cy="1383" r="1.9" fill="#555"/>
<circle cx="550.4" cy="1433.5" r="1.9" fill="#555"/></svg>
<div class="t" id="t0" style="left:355.0px;top:358.06px;font-size:46px;color:#555555;transform:scaleX(1.0306);-webkit-text-stroke:1.0px #f5f5f5;">Wiele warstw przyjemności</div>
<div class="t" id="t1" style="left:940.0px;top:358.06px;font-size:46px;color:#b9b9b9;font-style:italic;transform:scaleX(0.9812);-webkit-text-stroke:1.0px #f5f5f5;">Numerous layers of pleasure</div>
<div class="t" id="t2" style="left:354.5px;top:490.53px;font-size:23px;color:#808080;font-weight:700;transform:scaleX(0.9969);">Warstwa górna</div>
<div class="t" id="t3" style="left:525.5px;top:490.53px;font-size:23px;color:#999999;transform:scaleX(1.0230);-webkit-text-stroke:0.6px #f5f5f5;">3-poziomowy materac właściwy</div>
<div class="t" id="t4" style="left:356.0px;top:518.03px;font-size:23px;color:#ababab;font-weight:700;font-style:italic;transform:scaleX(0.9270);">Top layer</div>
<div class="t" id="t5" style="left:455.2px;top:518.03px;font-size:23px;color:#bbbbbb;font-style:italic;transform:scaleX(0.9781);-webkit-text-stroke:0.6px #f5f5f5;">3-level main mattress</div>
<div class="t" id="t6" style="left:354.5px;top:945.03px;font-size:23px;color:#808080;font-weight:700;transform:scaleX(1.0040);">Warstwa dolna</div>
<div class="t" id="t7" style="left:524.5px;top:945.03px;font-size:23px;color:#999999;-webkit-text-stroke:0.6px #f5f5f5;">Półtwarda podstawa z 2cm pianki</div>
<div class="t" id="t8" style="left:356.0px;top:972.53px;font-size:23px;color:#ababab;font-weight:700;font-style:italic;transform:scaleX(0.9559);">Bottom layer</div>
<div class="t" id="t9" style="left:496.5px;top:972.53px;font-size:23px;color:#bbbbbb;font-style:italic;transform:scaleX(0.9773);-webkit-text-stroke:0.6px #f5f5f5;">Semi-firm base of 2 cm foam</div>
<div class="t" id="t10" style="left:455.0px;top:618.46px;font-size:18px;color:#666666;transform:scaleX(0.9546);">Pianka Gelax</div>
<div class="t" id="t11" style="left:455.5px;top:638.91px;font-size:17px;color:#a9a9a9;font-style:italic;transform:scaleX(1.0122);">Gelax foam</div>
<div class="t" id="t12" style="left:455.0px;top:718.46px;font-size:18px;color:#666666;transform:scaleX(0.9946);">Pianka wysokoelastyczna</div>
<div class="t" id="t13" style="left:455.5px;top:738.91px;font-size:17px;color:#a9a9a9;font-style:italic;transform:scaleX(1.0293);">High-resilience foam</div>
<div class="t" id="t14" style="left:455.0px;top:818.46px;font-size:18px;color:#666666;transform:scaleX(0.9977);">Pianka antybakteryjna</div>
<div class="t" id="t15" style="left:455.5px;top:838.91px;font-size:17px;color:#a9a9a9;font-style:italic;transform:scaleX(1.0545);">Antibacterial foam</div>
<div class="t" id="t16" style="left:861.0px;top:618.46px;font-size:18px;color:#666666;transform:scaleX(0.9939);">Sprężyny kieszeniowe</div>
<div class="t" id="t17" style="left:861.5px;top:638.91px;font-size:17px;color:#a9a9a9;font-style:italic;transform:scaleX(1.0143);">Pocket springs</div>
<div class="t" id="t18" style="left:861.0px;top:718.46px;font-size:18px;color:#666666;transform:scaleX(1.0185);">Sprężyny typu bonell</div>
<div class="t" id="t19" style="left:861.5px;top:738.91px;font-size:17px;color:#a9a9a9;font-style:italic;transform:scaleX(1.0168);">Bonnell springs</div>
<div class="t" id="t20" style="left:861.0px;top:818.46px;font-size:18px;color:#666666;transform:scaleX(0.9961);">Pianka poliuretanowa T25</div>
<div class="t" id="t21" style="left:861.5px;top:838.91px;font-size:17px;color:#a9a9a9;font-style:italic;transform:scaleX(1.0358);">T25 polyurethane foam</div>
<div class="t" id="t22" style="left:1267.0px;top:618.46px;font-size:18px;color:#666666;transform:scaleX(1.0035);">7 stref twardości</div>
<div class="t" id="t23" style="left:1267.5px;top:638.91px;font-size:17px;color:#a9a9a9;font-style:italic;transform:scaleX(0.9868);">7 firmness zones</div>
<div class="t" id="t24" style="left:1267.0px;top:718.46px;font-size:18px;color:#666666;">Pikowany cały materac</div>
<div class="t" id="t25" style="left:1267.5px;top:738.91px;font-size:17px;color:#a9a9a9;font-style:italic;transform:scaleX(1.0379);">Full mattress quilting</div>
<div class="t" id="t26" style="left:1267.0px;top:818.46px;font-size:18px;color:#666666;transform:scaleX(1.0243);">Właściwości antyalergiczne</div>
<div class="t" id="t27" style="left:1267.5px;top:838.91px;font-size:17px;color:#a9a9a9;font-style:italic;transform:scaleX(1.0400);">Hypoallergenic properties</div>
<div class="t" id="t28" style="left:1673.0px;top:618.46px;font-size:18px;color:#666666;transform:scaleX(1.0342);">Owata 200g</div>
<div class="t" id="t29" style="left:1673.5px;top:638.91px;font-size:17px;color:#a9a9a9;font-style:italic;transform:scaleX(1.0739);">200g wadding</div>
<div class="t" id="t30" style="left:1673.0px;top:718.46px;font-size:18px;color:#666666;transform:scaleX(1.0243);">Dwupoziomowy układ sprężyn</div>
<div class="t" id="t31" style="left:1673.5px;top:738.91px;font-size:17px;color:#a9a9a9;font-style:italic;transform:scaleX(1.0244);">Two-level spring system</div>
<div class="t" id="t32" style="left:1673.0px;top:818.46px;font-size:18px;color:#666666;transform:scaleX(1.0318);">Właściwości ortopedyczne</div>
<div class="t" id="t33" style="left:1673.5px;top:838.91px;font-size:17px;color:#a9a9a9;font-style:italic;transform:scaleX(1.0325);">Orthopedic properties</div>
<div class="t" id="t34" style="left:454.4px;top:1051.66px;font-size:18px;color:#666666;">Pianka poliuretanowa</div>
<div class="t" id="t35" style="left:454.4px;top:1071.16px;font-size:18px;color:#666666;transform:scaleX(1.0120);">o zwiększonej gęstości T30</div>
<div class="t" id="t36" style="left:455.0px;top:1092.21px;font-size:17px;color:#a9a9a9;font-style:italic;transform:scaleX(1.0334);">High density T30 polyurethane</div>
<div class="t" id="t37" style="left:455.0px;top:1112.41px;font-size:17px;color:#a9a9a9;font-style:italic;transform:scaleX(1.0345);">foam</div>
<div class="t" id="t38" style="left:860.5px;top:1071.16px;font-size:18px;color:#666666;transform:scaleX(1.0251);">Box półtwardy</div>
<div class="t" id="t39" style="left:861.0px;top:1092.21px;font-size:17px;color:#a9a9a9;font-style:italic;transform:scaleX(1.0257);">Semi-hard box</div>
<div class="t" id="t40" style="left:563.0px;top:1375.86px;font-size:16px;color:#666666;transform:scaleX(1.0254);">Dostępne szerokości: 160, 180 cm</div>
<div class="t" id="t41" style="left:563.0px;top:1395.43px;font-size:14.5px;color:#b8b8b8;font-style:italic;transform:scaleX(1.1021);">Available widths:  160 cm; 180 cm</div>
<div class="t" id="t42" style="left:563.0px;top:1426.16px;font-size:16px;color:#666666;transform:scaleX(1.0284);">Dostępne szerokości zagłówka: 170, 190 cm</div>
<div class="t" id="t43" style="left:563.0px;top:1445.63px;font-size:14.5px;color:#b8b8b8;font-style:italic;transform:scaleX(1.1152);">Available widths of headboard: 170cm; 190 cm</div>
<div class="t" id="t44" style="left:1040.8px;top:1341.14px;font-size:25px;color:#1b3566;transform:scaleX(1.0328);-webkit-text-stroke:0.15px #f5f5f5;">Wysokość wezgłowia, wysokość nóżek,</div>
<div class="t" id="t45" style="left:1040.8px;top:1372.74px;font-size:25px;color:#1b3566;transform:scaleX(1.0426);-webkit-text-stroke:0.15px #f5f5f5;">materac bazowy oraz materac właściwy</div>
<div class="t" id="t46" style="left:1040.8px;top:1404.34px;font-size:25px;color:#1b3566;transform:scaleX(1.0343);-webkit-text-stroke:0.15px #f5f5f5;">- nie podlegają personalizacji. Astoria</div>
<div class="t" id="t47" style="left:1040.8px;top:1435.94px;font-size:25px;color:#1b3566;transform:scaleX(1.0440);-webkit-text-stroke:0.15px #f5f5f5;">dostępna jest wyłącznie w następują-</div>
<div class="t" id="t48" style="left:1040.8px;top:1467.54px;font-size:25px;color:#1b3566;transform:scaleX(1.0151);-webkit-text-stroke:0.15px #f5f5f5;">cych tkaninach tapicerskich: Fresh 01,</div>
<div class="t" id="t49" style="left:1040.8px;top:1499.14px;font-size:25px;color:#1b3566;transform:scaleX(0.9463);-webkit-text-stroke:0.15px #f5f5f5;">Fresh 11, Fresh 13, Fresh 32.</div>
<div class="t" id="t50" style="left:1040.8px;top:1537.14px;font-size:25px;color:#1b3566;transform:scaleX(1.0285);-webkit-text-stroke:0.15px #f5f5f5;">Nakładka złączona z materacem.</div>
<div class="t" id="t51" style="left:1532.0px;top:1341.86px;font-size:24.5px;color:#9e9e9e;font-style:italic;transform:scaleX(1.0216);-webkit-text-stroke:0.35px #f5f5f5;">The headboard height, feet height, base</div>
<div class="t" id="t52" style="left:1532.0px;top:1373.26px;font-size:24.5px;color:#9e9e9e;font-style:italic;transform:scaleX(1.0379);-webkit-text-stroke:0.35px #f5f5f5;">mattress and main mattress cannot be</div>
<div class="t" id="t53" style="left:1532.0px;top:1404.66px;font-size:24.5px;color:#9e9e9e;font-style:italic;transform:scaleX(1.0293);-webkit-text-stroke:0.35px #f5f5f5;">customised. Astoria beds are available</div>
<div class="t" id="t54" style="left:1532.0px;top:1436.06px;font-size:24.5px;color:#9e9e9e;font-style:italic;transform:scaleX(1.0307);-webkit-text-stroke:0.35px #f5f5f5;">only with the following upholstery fabrics:</div>
<div class="t" id="t55" style="left:1532.0px;top:1467.46px;font-size:24.5px;color:#9e9e9e;font-style:italic;transform:scaleX(0.9399);-webkit-text-stroke:0.35px #f5f5f5;">Fresh 01, Fresh 11, Fresh 13 and Fresh 32.</div>
<div class="t" id="t56" style="left:1532.0px;top:1506.36px;font-size:24.5px;color:#9e9e9e;font-style:italic;transform:scaleX(1.0173);-webkit-text-stroke:0.35px #f5f5f5;">Topper integrated with the mattress.</div>
<div class="t" id="t57" style="left:200.5px;top:1360.89px;font-size:17.5px;color:#7a7a7a;transform:scaleX(1.0754);">170 / 190 cm</div>
<div class="t" id="t58" style="left:124.2px;top:1449.99px;font-size:17.5px;color:#7a7a7a;transform:scaleX(0.9862);">130</div>
<div class="t" id="t59" style="left:124.2px;top:1472.19px;font-size:17.5px;color:#7a7a7a;transform:scaleX(1.0202);">cm</div>
<div class="t" id="t60" style="left:460.8px;top:1466.99px;font-size:17.5px;color:#7a7a7a;transform:scaleX(1.0119);">63</div>
<div class="t" id="t61" style="left:460.8px;top:1489.69px;font-size:17.5px;color:#7a7a7a;transform:scaleX(1.0374);">cm</div>
<div class="t" id="t62" style="left:168.5px;top:1549.89px;font-size:17.5px;color:#7a7a7a;transform:scaleX(1.0368);">210 cm</div>
<div class="t" id="t63" style="left:386.3px;top:1550.19px;font-size:17.5px;color:#7a7a7a;transform:scaleX(1.0803);">160 / 180 cm</div>
</body></html>
